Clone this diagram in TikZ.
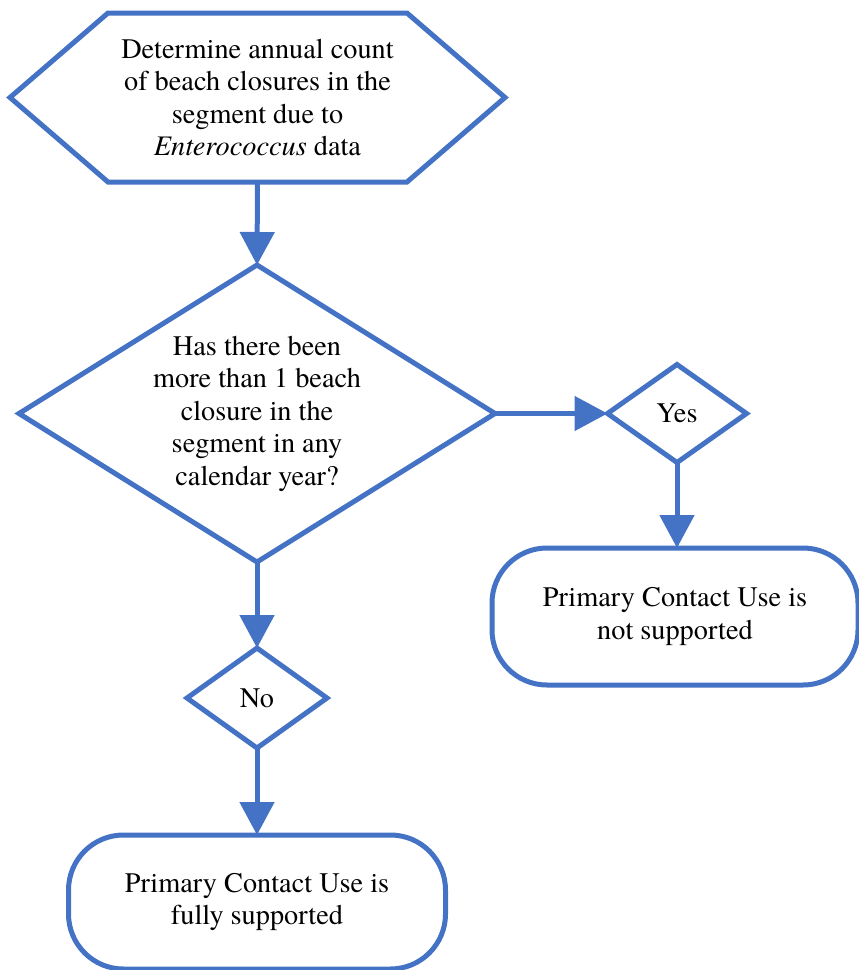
\documentclass[tikz,border=0pt]{standalone}
\usepackage{fontspec}
\setmainfont{texgyretermes}[Extension=.otf, UprightFont=*-regular, ItalicFont=*-italic, BoldFont=*-bold, BoldItalicFont=*-bolditalic]
\usetikzlibrary{arrows.meta}
\definecolor{fblue}{HTML}{4472C4}
\begin{document}
\begin{tikzpicture}[x=1pt,y=-1pt,
  outline/.style={draw=fblue, line width=5pt, line join=miter},
  box/.style={inner sep=0pt, outer sep=0pt, align=center, font=\fontsize{28.3}{32.5}\selectfont},
  endbox/.style={box, draw=fblue, line width=5pt, rounded corners=55pt},
  conn/.style={draw=fblue, line width=5pt, -{Triangle[width=34pt,length=33pt]}}]
\useasboundingbox (0,0) rectangle (859,970);
\node[box, minimum width=495, minimum height=169] (hex) at (257.5,97.5)
  {Determine annual count\\of beach closures in the\\segment due to\\\textit{Enterococcus} data};
\draw[outline] (hex.west) -- ([xshift=98pt]hex.north west) -- ([xshift=-98pt]hex.north east)
  -- (hex.east) -- ([xshift=-98pt]hex.south east) -- ([xshift=98pt]hex.south west) -- cycle;
\node[box, minimum width=476, minimum height=297] (q) at (257,413.5)
  {Has there been\\more than 1 beach\\closure in the\\segment in any\\calendar year?};
\draw[outline] (q.north) -- (q.east) -- (q.south) -- (q.west) -- cycle;
\node[box, minimum width=139, minimum height=98] (yes) at (677,413.5) {Yes};
\draw[outline] (yes.north) -- (yes.east) -- (yes.south) -- (yes.west) -- cycle;
\node[box, minimum width=140, minimum height=100] (no) at (257,698) {No};
\draw[outline] (no.north) -- (no.east) -- (no.south) -- (no.west) -- cycle;
\node[endbox, minimum width=366, minimum height=137] (rr) at (675,616.5)
  {Primary Contact Use is\\not supported};
\node[endbox, minimum width=377, minimum height=134] (br) at (257,902)
  {Primary Contact Use is\\fully supported};
\draw[conn] (hex.south) -- (q.north);
\draw[conn] (q.east) -- (yes.west);
\draw[conn] (q.south) -- (no.north);
\draw[conn] (yes.south) -- (yes.south |- rr.north);
\draw[conn] (no.south) -- (no.south |- br.north);
\end{tikzpicture}
\end{document}
